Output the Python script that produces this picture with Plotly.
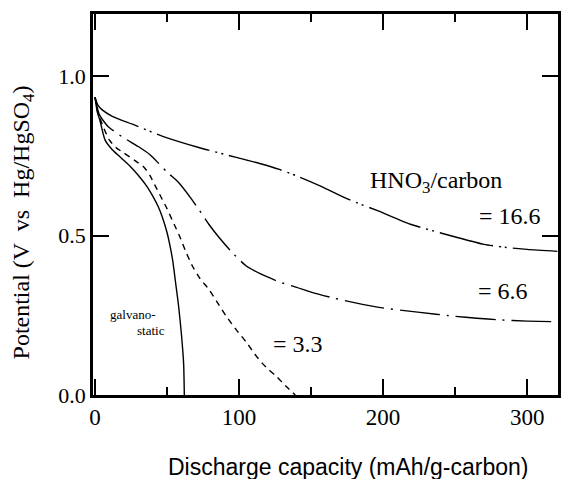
import plotly.graph_objects as go

# Galvanostatic (solid)
galv_x = [0, 1.5, 3.5, 7, 12, 18, 24, 30, 36, 40, 44, 47, 50, 52, 54, 56, 58, 60, 61.5, 62]
galv_y = [0.935, 0.89, 0.86, 0.80, 0.77, 0.745, 0.72, 0.69, 0.655, 0.625, 0.59, 0.555, 0.51, 0.47, 0.42, 0.35, 0.28, 0.19, 0.10, 0.0]

# HNO3/carbon = 3.3 (dashed)
r33_x = [0, 1.5, 5, 10, 15, 20, 28, 34, 38, 42, 46, 50, 55, 58.6, 63, 67.6, 73, 79, 85, 91, 98, 105, 111, 116, 121, 126, 132, 139]
r33_y = [0.935, 0.895, 0.85, 0.80, 0.775, 0.76, 0.735, 0.715, 0.69, 0.655, 0.62, 0.585, 0.535, 0.50, 0.45, 0.405, 0.365, 0.332, 0.29, 0.248, 0.205, 0.166, 0.128, 0.10, 0.078, 0.058, 0.03, 0.0]

# HNO3/carbon = 6.6 (long dash-dot)
r66_x = [0, 3, 9, 19, 30, 38, 50, 58, 67, 72, 79, 86, 95, 105, 115, 128, 140, 150, 165, 180, 197, 224, 250, 265, 280, 300, 321]
r66_y = [0.935, 0.88, 0.843, 0.81, 0.78, 0.755, 0.70, 0.667, 0.615, 0.583, 0.536, 0.495, 0.448, 0.405, 0.38, 0.355, 0.338, 0.323, 0.305, 0.29, 0.275, 0.26, 0.247, 0.241, 0.236, 0.232, 0.230]

# HNO3/carbon = 16.6 (dash-dot-dot)
r166_x = [0, 2, 5, 12, 26, 47, 72, 98, 115, 128, 141, 157, 176, 197, 219, 247, 270, 284, 300, 321]
r166_y = [0.935, 0.91, 0.895, 0.875, 0.85, 0.812, 0.777, 0.746, 0.726, 0.708, 0.686, 0.655, 0.614, 0.577, 0.536, 0.50, 0.473, 0.464, 0.457, 0.451]

x_tickvals = [0, 100, 200, 300]
x_ticktext = ["0", "100", "200", "300"]
y_tickvals = [0.0, 0.5, 1.0]
y_ticktext = ["0.0", "0.5", "1.0"]

SERIF = "Liberation Serif"
SANS = "Liberation Sans"

fig = go.Figure()
lw = 1.4
fig.add_trace(go.Scatter(x=galv_x, y=galv_y, mode="lines", line=dict(color="black", width=lw, shape="spline", smoothing=0.6)))
fig.add_trace(go.Scatter(x=r33_x, y=r33_y, mode="lines", line=dict(color="black", width=lw, dash="6px,5px", shape="spline", smoothing=0.6)))
fig.add_trace(go.Scatter(x=r66_x, y=r66_y, mode="lines", line=dict(color="black", width=lw, dash="40px,7px,2px,7px", shape="spline", smoothing=0.6)))
fig.add_trace(go.Scatter(x=r166_x, y=r166_y, mode="lines", line=dict(color="black", width=lw, dash="55px,6px,2px,4px,2px,6px", shape="spline", smoothing=0.6)))

fig.update_layout(
    width=565, height=479,
    margin=dict(l=93, r=4, t=14, b=84),
    paper_bgcolor="white", plot_bgcolor="white",
    showlegend=False,
    font=dict(family=SERIF, color="black", size=22),
)
fig.update_xaxes(
    range=[-1.4, 321.4], showgrid=False, zeroline=False,
    showline=True, linewidth=2.5, linecolor="black", mirror="ticks",
    ticks="inside", ticklen=16, tickwidth=1.5, tickcolor="black",
    tickvals=x_tickvals, ticktext=x_ticktext,
    tickfont=dict(family=SERIF, size=23, color="black"),
    minor=dict(dtick=50, ticks="inside", ticklen=8, tickwidth=1.5, tickcolor="black", showgrid=False),
)
fig.update_yaxes(
    range=[0, 1.196], showgrid=False, zeroline=False,
    showline=True, linewidth=2.5, linecolor="black", mirror="ticks",
    ticks="inside", ticklen=16, tickwidth=1.5, tickcolor="black",
    tickvals=y_tickvals, ticktext=y_ticktext,
    tickfont=dict(family=SERIF, size=22, color="black"),
)

ann = []
ann.append(dict(xref="paper", yref="paper", x=-0.1496, y=0.454, text="Potential (V  vs  Hg/HgSO<sub>4</sub>)",
                textangle=-90, showarrow=False, font=dict(family=SERIF, size=24, color="black"),
                xanchor="center", yanchor="middle"))
ann.append(dict(xref="paper", yref="paper", x=0.549, y=-0.189, text="Discharge capacity (mAh/g-carbon)",
                showarrow=False, font=dict(family=SANS, size=23, color="black"),
                xanchor="center", yanchor="middle"))
ann.append(dict(x=236.6, y=0.668, text="HNO<sub>3</sub>/carbon", showarrow=False,
                font=dict(family=SERIF, size=24, color="black")))
ann.append(dict(x=288, y=0.561, text="= 16.6", showarrow=False, font=dict(family=SERIF, size=24, color="black")))
ann.append(dict(x=283.5, y=0.326, text="= 6.6", showarrow=False, font=dict(family=SERIF, size=24, color="black")))
ann.append(dict(x=141, y=0.16, text="= 3.3", showarrow=False, font=dict(family=SERIF, size=24, color="black")))
ann.append(dict(x=26, y=0.253, text="galvano-", showarrow=False, font=dict(family=SERIF, size=13, color="black")))
ann.append(dict(x=38.6, y=0.203, text="static", showarrow=False, font=dict(family=SERIF, size=13, color="black")))
fig.update_layout(annotations=ann)

fig.write_html("out.html")
